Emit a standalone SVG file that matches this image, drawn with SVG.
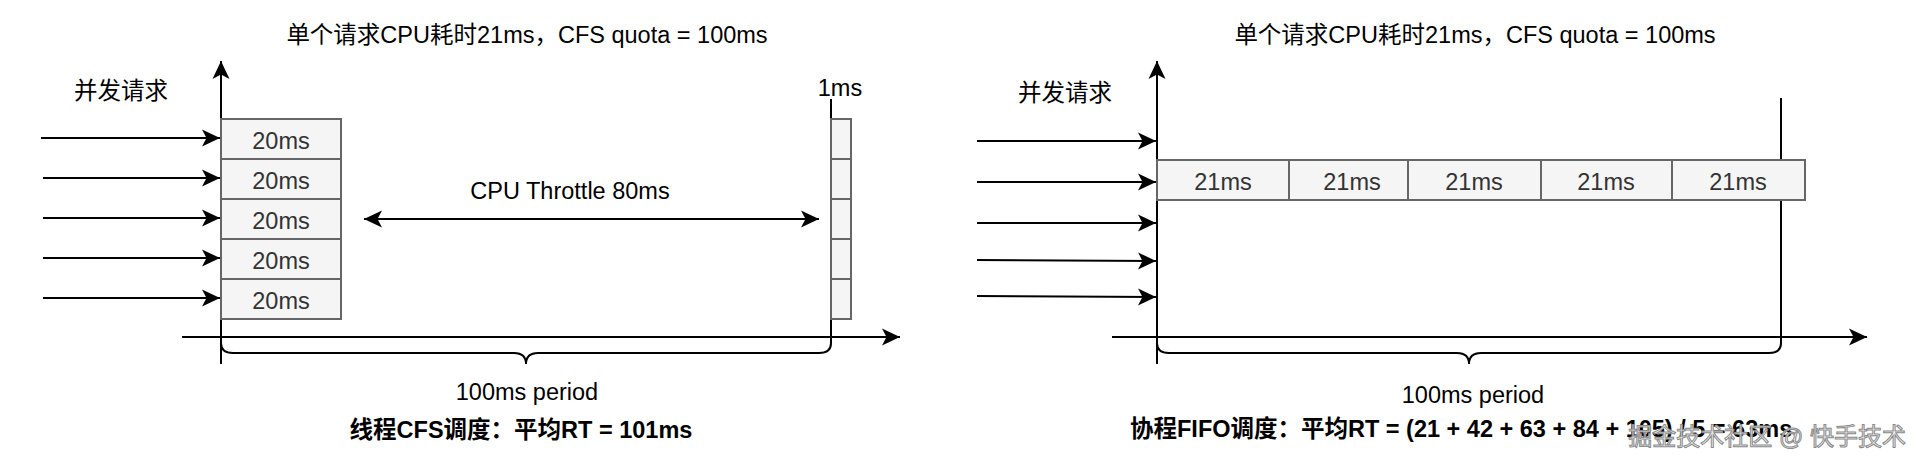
<svg xmlns="http://www.w3.org/2000/svg" width="1922" height="464" viewBox="0 0 1922 464">
<style>
text{font-family:"Liberation Sans","Noto Sans CJK SC",sans-serif;font-size:23.5px;fill:#000}
.c{text-anchor:middle}
.b{font-weight:bold}
.bt{fill:#333;text-anchor:middle}
.box{fill:#f5f5f5;stroke:#666;stroke-width:2}
.ln{stroke:#000;stroke-width:2;fill:none}
.wm{font-size:24px;fill:#f2f2f2;fill-opacity:0.9;stroke:#8a8a8a;stroke-width:1;text-anchor:end}
</style>
<defs>
<marker id="ah" markerUnits="userSpaceOnUse" markerWidth="20" markerHeight="20" viewBox="-19 -9 20 18" refX="0" refY="0" orient="auto-start-reverse">
<path d="M-18,-8.5 L0,0 L-18,8.5 L-13.5,0 Z" fill="#000"/>
</marker>
</defs>
<rect width="1922" height="464" fill="#fff"/>

<g id="connectors">
<line class="ln" x1="221" y1="364" x2="221" y2="61" marker-end="url(#ah)"/>
<line class="ln" x1="182" y1="337" x2="900" y2="337" marker-end="url(#ah)"/>
<line class="ln" x1="41" y1="138" x2="220" y2="138" marker-end="url(#ah)"/>
<line class="ln" x1="43" y1="178" x2="220" y2="178" marker-end="url(#ah)"/>
<line class="ln" x1="43" y1="218" x2="220" y2="218" marker-end="url(#ah)"/>
<line class="ln" x1="43" y1="258" x2="220" y2="258" marker-end="url(#ah)"/>
<line class="ln" x1="43" y1="298" x2="220" y2="298" marker-end="url(#ah)"/>
<line class="ln" x1="364" y1="219" x2="819" y2="219" marker-start="url(#ah)" marker-end="url(#ah)"/>
<line class="ln" x1="831" y1="99" x2="831" y2="343"/>
<path class="ln" d="M221,343 Q221,353 233,353 L514,353 Q526,353 526,364 Q526,353 538,353 L819,353 Q831,353 831,343"/>
<line class="ln" x1="1157" y1="364" x2="1157" y2="61" marker-end="url(#ah)"/>
<line class="ln" x1="1112" y1="337" x2="1867" y2="337" marker-end="url(#ah)"/>
<line class="ln" x1="977" y1="141" x2="1156" y2="141" marker-end="url(#ah)"/>
<line class="ln" x1="977" y1="182" x2="1156" y2="182" marker-end="url(#ah)"/>
<line class="ln" x1="977" y1="223" x2="1156" y2="223" marker-end="url(#ah)"/>
<line class="ln" x1="977" y1="260" x2="1156" y2="261" marker-end="url(#ah)"/>
<line class="ln" x1="977" y1="296" x2="1156" y2="297" marker-end="url(#ah)"/>
<line class="ln" x1="1781" y1="98" x2="1781" y2="343"/>
<path class="ln" d="M1157,343 Q1157,353 1169,353 L1457,353 Q1469,353 1469,364 Q1469,353 1481,353 L1769,353 Q1781,353 1781,343"/>
</g>

<g id="left-labels">
<text class="c" x="527" y="43">单个请求CPU耗时21ms，CFS quota = 100ms</text>
<text class="c" x="121" y="99">并发请求</text>
<text class="c" x="840" y="96">1ms</text>
<text class="c" x="570" y="199">CPU Throttle 80ms</text>
<text class="c" x="527" y="400">100ms period</text>
<text class="c b" x="521" y="438">线程CFS调度：平均RT = 101ms</text>
</g>

<g id="left-boxes">
<g id="l1"><rect class="box" x="221" y="119" width="120" height="40"/><text class="bt" x="281" y="149">20ms</text></g>
<g id="l2"><rect class="box" x="221" y="159" width="120" height="40"/><text class="bt" x="281" y="189">20ms</text></g>
<g id="l3"><rect class="box" x="221" y="199" width="120" height="40"/><text class="bt" x="281" y="229">20ms</text></g>
<g id="l4"><rect class="box" x="221" y="239" width="120" height="40"/><text class="bt" x="281" y="269">20ms</text></g>
<g id="l5"><rect class="box" x="221" y="279" width="120" height="40"/><text class="bt" x="281" y="309">20ms</text></g>
</g>

<g id="left-small-boxes">
<g id="s1"><rect class="box" x="831" y="119" width="20" height="40"/></g>
<g id="s2"><rect class="box" x="831" y="159" width="20" height="40"/></g>
<g id="s3"><rect class="box" x="831" y="199" width="20" height="40"/></g>
<g id="s4"><rect class="box" x="831" y="239" width="20" height="40"/></g>
<g id="s5"><rect class="box" x="831" y="279" width="20" height="40"/></g>
</g>

<g id="right-labels">
<text class="c" x="1475" y="43">单个请求CPU耗时21ms，CFS quota = 100ms</text>
<text class="c" x="1065" y="101">并发请求</text>
<text class="c" x="1473" y="403">100ms period</text>
<text class="b" x="1130" y="437">协程FIFO调度：平均RT = (21 + 42 + 63 + 84 + 105) / 5 = 63ms</text>
</g>

<g id="right-boxes">
<g id="r1"><rect class="box" x="1157" y="160" width="132" height="40"/><text class="bt" x="1223" y="190">21ms</text></g>
<g id="r2"><rect class="box" x="1289" y="160" width="119" height="40"/><text class="bt" x="1352" y="190">21ms</text></g>
<g id="r3"><rect class="box" x="1408" y="160" width="133" height="40"/><text class="bt" x="1474" y="190">21ms</text></g>
<g id="r4"><rect class="box" x="1541" y="160" width="131" height="40"/><text class="bt" x="1606" y="190">21ms</text></g>
<g id="r5"><rect class="box" x="1672" y="160" width="133" height="40"/><text class="bt" x="1738" y="190">21ms</text></g>
</g>

<g id="watermark">
<text class="wm" x="1906" y="445">掘金技术社区 @ 快手技术</text>
</g>
</svg>
